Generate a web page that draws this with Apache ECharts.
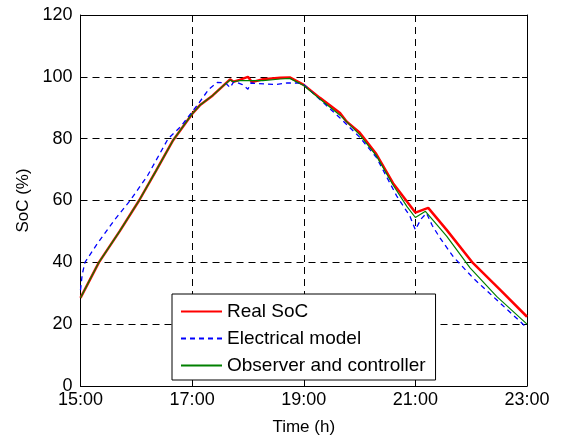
<!DOCTYPE html>
<html>
<head>
<meta charset="utf-8">
<script src="https://cdn.jsdelivr.net/npm/echarts@6/dist/echarts.min.js"></script>
<style>
html, body { margin: 0; padding: 0; background: #fff; }
#main { width: 565px; height: 439px; }
</style>
</head>
<body>
<div id="main"></div>
<script>
// time is in hours after 15:00
var realT = [0, 0.33, 0.7, 1.05, 1.35, 1.66, 2.0, 2.15, 2.37, 2.55, 2.68, 2.74, 2.85, 3.0, 3.07, 3.27, 3.58, 3.75, 4.0, 4.29, 4.65, 4.77, 5.0, 5.13, 5.3, 5.6, 5.9, 6.0, 6.23, 6.56, 7.03, 7.52, 8.0];
var realSoc = [28.5, 40, 50, 60, 69.5, 79.5, 88, 91, 94, 97, 99.2, 98.4, 99, 100, 98.3, 99.2, 99.7, 99.8, 97.4, 93.2, 88.3, 85.5, 82, 79, 75, 65.6, 58.5, 56.1, 57.6, 50.5, 39.8, 31.1, 22.4];

var modelT = [0, 0.03, 0.08, 0.3, 0.6, 0.89, 1.2, 1.57, 1.8, 1.95, 2.1, 2.3, 2.45, 2.6, 2.68, 2.75, 2.9, 3.0, 3.05, 3.3, 3.5, 3.7, 3.9, 4.0, 4.3, 4.65, 5.0, 5.3, 5.67, 5.9, 6.0, 6.1, 6.2, 6.3, 6.44, 6.68, 7.03, 7.46, 8.0];
var modelSoc = [31, 36, 40, 46, 53.5, 60, 68, 80, 84, 87.5, 91, 96, 98.2, 98, 96.5, 98.5, 97.5, 96, 98, 97.7, 97.5, 98, 98, 97.5, 92.5, 86.7, 80.5, 74, 61.3, 55, 50.5, 54, 55.9, 52, 47.9, 41.8, 35, 27.8, 18.8];

var obsT = [0, 0.33, 0.7, 1.05, 1.35, 1.66, 2.0, 2.15, 2.37, 2.55, 2.68, 2.74, 2.85, 3.0, 3.27, 3.58, 3.75, 4.0, 4.29, 4.65, 5.0, 5.3, 5.6, 5.85, 6.0, 6.18, 6.56, 6.98, 7.46, 8.0];
var obsSoc = [28.5, 40, 50, 60, 69.5, 79.5, 88, 91, 94, 97, 99, 98.4, 98.8, 98.8, 98.8, 99.3, 99.5, 97.2, 92.8, 87.6, 81.3, 74.5, 65, 58, 54.5, 56.5, 48.5, 38.2, 28.9, 20];

var xTicks = ['15:00', '17:00', '19:00', '21:00', '23:00'];
var names = ['Real SoC', 'Electrical model', 'Observer and controller'];

function pairs(t, v) {
    var out = [];
    for (var i = 0; i < t.length; i++) out.push([t[i], v[i]]);
    return out;
}

var font = 'Liberation Sans, Arial, sans-serif';
var chart = echarts.init(document.getElementById('main'));

var option = {
    animation: false,
    grid: { left: 80.5, right: 38, top: 15, bottom: 53, outerBoundsMode: 'none' },
    legend: {
        orient: 'vertical',
        left: 172,
        top: 294,
        padding: [8, 10, 5, 8],
        itemWidth: 41,
        itemHeight: 14,
        itemGap: 8,
        borderColor: '#000',
        borderWidth: 1,
        backgroundColor: '#fff',
        itemStyle: { opacity: 0 },
        textStyle: { fontFamily: font, fontSize: 19, color: '#000', lineHeight: 19 },
        data: names
    },
    xAxis: [{
        type: 'value',
        min: 0, max: 8, interval: 2,
        name: 'Time (h)',
        nameLocation: 'middle',
        nameGap: 33,
        nameTextStyle: { fontFamily: font, fontSize: 17, color: '#000' },
        axisLine: { lineStyle: { color: '#000', width: 1 } },
        axisTick: { inside: true, length: 5, lineStyle: { color: '#000' } },
        axisLabel: {
            margin: 5, fontFamily: font, fontSize: 18, color: '#000',
            formatter: function (v) { return xTicks[v / 2]; }
        },
        splitLine: { show: true, lineStyle: { color: '#000', type: [7, 5], width: 1 } }
    }, {
        type: 'value', position: 'top',
        min: 0, max: 8, interval: 2,
        axisLine: { show: true, onZero: false, lineStyle: { color: '#000' } },
        axisTick: { inside: true, length: 5, lineStyle: { color: '#000' } },
        axisLabel: { show: false },
        splitLine: { show: false }
    }],
    yAxis: [{
        type: 'value',
        min: 0, max: 120, interval: 20,
        name: 'SoC (%)',
        nameLocation: 'middle',
        nameGap: 46,
        nameTextStyle: { fontFamily: font, fontSize: 17, color: '#000' },
        axisLine: { show: true, lineStyle: { color: '#000', width: 1 } },
        axisTick: { show: true, inside: true, length: 5, lineStyle: { color: '#000' } },
        axisLabel: { margin: 8, fontFamily: font, fontSize: 18, color: '#000' },
        splitLine: { show: true, lineStyle: { color: '#000', type: [7, 5], width: 1 } }
    }, {
        type: 'value', position: 'right',
        min: 0, max: 120, interval: 20,
        axisLine: { show: true, onZero: false, lineStyle: { color: '#000' } },
        axisTick: { show: true, inside: true, length: 5, lineStyle: { color: '#000' } },
        axisLabel: { show: false },
        splitLine: { show: false }
    }],
    series: [{
        name: names[0],
        type: 'line',
        symbol: 'none',
        data: pairs(realT, realSoc),
        lineStyle: { color: '#ff0000', width: 2.5 },
        itemStyle: { color: '#ff0000' }
    }, {
        name: names[1],
        type: 'line',
        symbol: 'none',
        data: pairs(modelT, modelSoc),
        lineStyle: { color: '#0000ff', width: 1.3, type: [5, 4] },
        itemStyle: { color: '#0000ff' }
    }, {
        name: names[2],
        type: 'line',
        symbol: 'none',
        data: pairs(obsT, obsSoc),
        lineStyle: { color: '#008000', width: 1.2 },
        itemStyle: { color: '#008000' }
    }]
};
chart.setOption(option);
</script>
</body>
</html>
